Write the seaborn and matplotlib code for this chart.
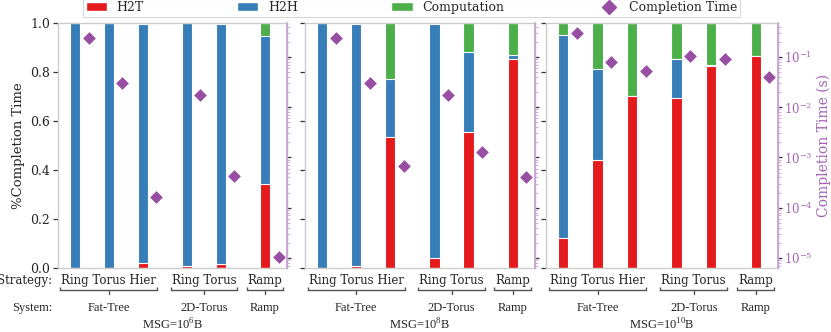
import numpy as np
import pandas as pd
import matplotlib
matplotlib.use('Agg')
import matplotlib.pyplot as plt
from matplotlib.patches import Patch
from matplotlib.lines import Line2D
import seaborn as sns

# Values
systems = ['Fat-Tree', 'Fat-Tree', 'Fat-Tree', '2D-Torus', '2D-Torus', 'Ramp']
strategies = ['Ring', 'Torus', 'Hier', 'Ring', 'Torus', 'Ramp']
msg_labels = ['MSG=10$^{\\mathregular{6}}$B', 'MSG=10$^{\\mathregular{8}}$B',
              'MSG=10$^{\\mathregular{10}}$B']

# fractions of completion time, MSG = 1e6 B
h2t_6 = [0.0, 0.0, 0.022, 0.010, 0.018, 0.344]
h2h_6 = [1.0, 1.0, 0.971, 0.990, 0.977, 0.603]
comp_6 = [0.0, 0.0, 0.007, 0.0, 0.005, 0.053]
time_6 = [0.242, 0.0303, 1.65e-4, 0.0173, 4.3e-4, 1.05e-5]

# MSG = 1e8 B
h2t_8 = [0.002, 0.008, 0.536, 0.042, 0.556, 0.853]
h2h_8 = [0.998, 0.987, 0.235, 0.951, 0.326, 0.014]
comp_8 = [0.0, 0.005, 0.229, 0.007, 0.118, 0.133]
time_8 = [0.242, 0.0303, 6.8e-4, 0.0177, 1.3e-3, 4.1e-4]

# MSG = 1e10 B
h2t_10 = [0.122, 0.442, 0.702, 0.691, 0.822, 0.864]
h2h_10 = [0.826, 0.369, 0.0, 0.163, 0.004, 0.0]
comp_10 = [0.052, 0.189, 0.298, 0.146, 0.174, 0.136]
time_10 = [0.296, 0.0806, 0.0519, 0.106, 0.0899, 0.0406]

# bar positions (groups separated by a wider gap)
x_pos = [0, 1, 2, 3.3, 4.3, 5.6]

red, blue, green, purple = '#e41a1c', '#377eb8', '#4daf4a', '#984ea3'
purple_txt = '#a463b4'
purple_spine = '#c9a3d6'
gray_spine = '#cccccc'

sns.set_theme(style='white')
plt.rcParams['font.family'] = ['DejaVu Serif']
plt.rcParams['mathtext.fontset'] = 'dejavuserif'

fig = plt.figure(figsize=(8.31, 3.32), dpi=100)
W, H = 831, 332
panel_px = [(58, 287), (305, 535), (546, 778)]
top_px, bot_px = 22.7, 268
axes = [fig.add_axes([l / W, 1 - bot_px / H, (r - l) / W, (bot_px - top_px) / H])
        for l, r in panel_px]

panels = [(h2t_6, h2h_6, comp_6, time_6),
          (h2t_8, h2h_8, comp_8, time_8),
          (h2t_10, h2h_10, comp_10, time_10)]

# group info for the strategy/system labels
groups = []
for s in dict.fromkeys(systems):
    idx = [i for i, v in enumerate(systems) if v == s]
    groups.append((s, np.mean([x_pos[i] for i in idx]), ' '.join(strategies[i] for i in idx)))

for k, (ax, (h2t, h2h, comp, tm)) in enumerate(zip(axes, panels)):
    df = pd.DataFrame({'x': x_pos, 'h2t': h2t, 'h2h': h2h, 'comp': comp, 'time': tm})
    df['mid'] = df['h2t'] + df['h2h']
    df['top'] = df['mid'] + df['comp']
    # layered bars give the stacked look
    for col, c in [('top', green), ('mid', blue), ('h2t', red)]:
        sns.barplot(data=df, x='x', y=col, native_scale=True, width=0.3, color=c,
                    saturation=1, edgecolor='white', linewidth=0.8, errorbar=None, ax=ax)
    ax.set_ylim(0, 1.0)
    ax.set_xlim(-0.5, 6.25)
    ax.set_xlabel('')
    ax.set_ylabel('')
    ax.set_xticks([])
    ax.set_yticks(np.arange(0, 1.01, 0.2))
    ax.tick_params(axis='y', left=True, length=3.5, width=0.9, color='#333333',
                   labelsize=9, pad=2, labelleft=(k == 0))
    if k == 0:
        ax.set_yticklabels([f'{v:.1f}' for v in np.arange(0, 1.01, 0.2)])
        ax.set_ylabel('%Completion Time', fontsize=9.5)
        ax.yaxis.set_label_coords(-0.144, 0.5)
    for side in ['left', 'top', 'bottom']:
        ax.spines[side].set_color(gray_spine)
        ax.spines[side].set_linewidth(1)
    ax.spines['right'].set_color(purple_spine)

    tw = ax.twinx()
    tw.set_yscale('log')
    sns.scatterplot(x=df['x'] + 0.4, y=df['time'], marker='D', s=42, color=purple,
                    linewidth=0, ax=tw, zorder=5)
    tw.set_yscale('log')
    tw.set_ylim(6.3e-6, 0.48)
    tw.set_xlim(-0.5, 6.25)
    tw.set_ylabel('')
    for side in ['left', 'top', 'bottom']:
        tw.spines[side].set_visible(False)
    tw.spines['right'].set_color(purple_spine)
    tw.spines['right'].set_linewidth(1)
    tw.tick_params(axis='y', which='major', right=True, length=3, width=0.9,
                   color='#333333', labelcolor=purple_txt, labelsize=8.5, pad=1,
                   labelright=(k == 2))
    tw.tick_params(axis='y', which='minor', right=True, length=2, width=0.6,
                   color=purple_spine, labelright=False)
    if k == 2:
        tw.set_ylabel('Completion Time (s)', color=purple_txt, fontsize=10)
        tw.yaxis.set_label_coords(1.168, 0.5)

    tr = ax.get_xaxis_transform()
    for name, cx, strat in groups:
        ax.text(cx, -0.0652, strat, transform=tr, ha='center', va='baseline', fontsize=8.5)
        ax.text(cx, -0.1753, name, transform=tr, ha='center', va='baseline',
                fontsize=9, family='Liberation Serif')
    ax.text(0.5, -0.252, msg_labels[k], transform=ax.transAxes, ha='center',
            va='baseline', fontsize=9, family='Liberation Serif')
    if k == 0:
        ax.text(-0.026, -0.0652, 'Strategy:', transform=ax.transAxes, ha='right',
                va='baseline', fontsize=8.5)
        ax.text(-0.026, -0.1753, 'System:', transform=ax.transAxes, ha='right',
                va='baseline', fontsize=9, family='Liberation Serif')

# brackets under the strategy labels, sized from the rendered text
fig.canvas.draw()
renderer = fig.canvas.get_renderer()
strat_names = [g[2] for g in groups]
for ax in axes:
    tr = ax.get_xaxis_transform()
    inv = ax.transData.inverted()
    strat_texts = [t for t in ax.texts if t.get_text() in strat_names]
    for t, (name, cx, strat) in zip(strat_texts, groups):
        bb = t.get_window_extent(renderer)
        x0 = inv.transform((bb.x0 - 1, 0))[0]
        x1 = inv.transform((bb.x1 + 1, 0))[0]
        ax.plot([x0, x0, x1, x1], [-0.078, -0.0897, -0.0897, -0.078], transform=tr,
                color='#555555', lw=1, clip_on=False, solid_capstyle='butt')
        ax.plot([cx, cx], [-0.0897, -0.106], transform=tr, color='#555555', lw=1,
                clip_on=False)

handles = [Patch(facecolor=red, edgecolor='white'),
           Patch(facecolor=blue, edgecolor='white'),
           Patch(facecolor=green, edgecolor='white'),
           Line2D([], [], marker='D', color=purple, linestyle='none', markersize=7)]
labels = ['H2T', 'H2H', 'Computation', 'Completion Time']
leg = fig.legend(handles, labels, loc='lower left',
                 bbox_to_anchor=(83 / W, 1 - 16.7 / H, 657 / W, 0.05), mode='expand',
                 ncol=4, frameon=True, fancybox=False, edgecolor=gray_spine,
                 fontsize=9, borderpad=0.2, handlelength=1.7, handletextpad=0.8,
                 borderaxespad=0)
leg.get_frame().set_linewidth(0.8)

fig.savefig('out.png', dpi=100)
